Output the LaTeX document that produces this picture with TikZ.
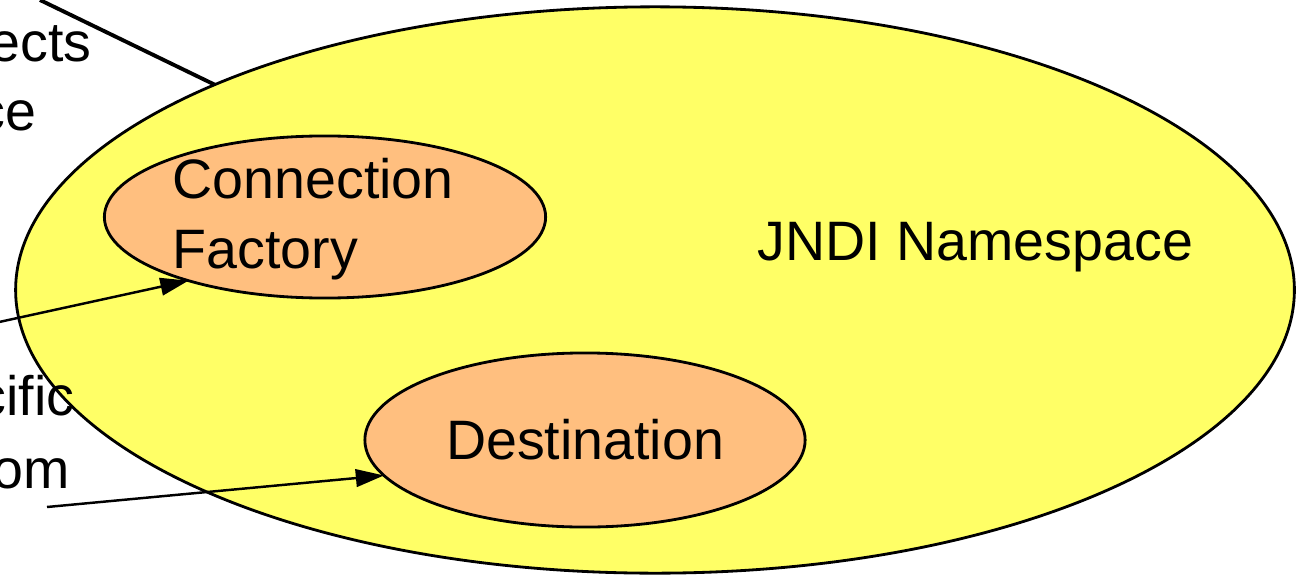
\documentclass[tikz,border=0pt]{standalone}
\usepackage{fontspec}
\setmainfont{Liberation Sans}
\usetikzlibrary{shapes.geometric,arrows.meta}
\definecolor{nsyellow}{RGB}{255,255,102}
\definecolor{objorange}{RGB}{255,191,127}

\begin{document}
\begin{tikzpicture}[x=0.01cm,y=-0.01cm,
    bubble/.style={ellipse,draw,line width=0.8pt,inner sep=0pt,outer sep=0pt},
    lbl/.style={font=\fontsize{15.8}{19.9}\selectfont,inner sep=0pt},
    arr/.style={line width=0.7pt,-{Triangle[length=8pt,width=5pt]}}]
        \useasboundingbox (0,0) rectangle (1304,576) ;
        \clip (0,0) rectangle (1304,576) ;
        % the namespace and the two objects bound in it
        \node[bubble,fill=nsyellow,minimum width=12.78cm,minimum height=5.66cm] (ns) at (655,290) {} ;
        \node[lbl,anchor=base west] (nslbl) at (757,260) {JNDI Namespace} ;
        \node[bubble,fill=objorange,minimum width=4.41cm,minimum height=1.62cm] (cf) at (325,217) {} ;
        \node[lbl,align=left,anchor=west] (cflbl) at (172,219) {Connection\\Factory} ;
        \node[bubble,lbl,fill=objorange,minimum width=4.40cm,minimum height=1.74cm] (dst) at (585,440) {Destination} ;
        % lookups coming in from the left
        \coordinate (cfsrc) at (-10,324) ;
        \coordinate (dstsrc) at (47,507) ;
        \coordinate (linesrc) at (40,0) ;
        \draw[arr] (cfsrc) -- (cf.-155) ;
        \draw[arr] (dstsrc) -- (dst.-170) ;
        \draw[line width=1.1pt] (linesrc) -- (ns.155) ;
        % text running off the left edge
        \node[lbl,anchor=base east] (t1) at (92,62) {ects} ;
        \node[lbl,anchor=base east] (t2) at (37,130) {ce} ;
        \node[lbl,anchor=base east] (t3) at (75,415) {cific} ;
        \node[lbl,anchor=base east] (t4) at (70,488) {om} ;
      \end{tikzpicture}
\end{document}
